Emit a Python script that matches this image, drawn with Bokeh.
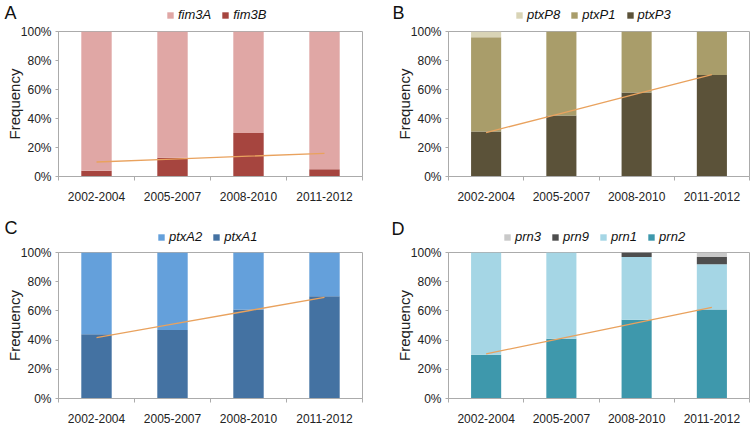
from bokeh.plotting import figure
from bokeh.layouts import column, row
from bokeh.models import (ColumnDataSource, Range1d, LinearAxis,
                          FixedTicker, PrintfTickFormatter, Legend, LegendItem, Label)
from bokeh.embed import file_html
from bokeh.resources import INLINE
import numpy as np

# ---------------- data ----------------
periods = ["2002-2004", "2005-2007", "2008-2010", "2011-2012"]
y_ticks = [0, 20, 40, 60, 80, 100]

# Panel A (bottom -> top)
fim3B = [4, 13, 30, 5]
fim3A = [96, 87, 70, 95]

# Panel B
ptxP3 = [31, 42, 58, 70]
ptxP1 = [65, 58, 42, 30]
ptxP8 = [4, 0, 0, 0]

# Panel C
ptxA1 = [44, 47, 61, 70]
ptxA2 = [56, 53, 39, 30]

# Panel D
prn2 = [30, 41, 54, 61]
prn1 = [70, 59, 43, 31]
prn9 = [0, 0, 3, 5]
prn3 = [0, 0, 0, 3]

FONT = "Liberation Sans"
GRAY = "#ABABAB"
TXT = "#222222"
TREND = "#E9A25E"

n_cat = len(periods)
centers = [i + 0.5 for i in range(n_cat)]


def header(letter, names, colors, width, height, letter_pos, legend_pos):
    h = figure(width=width, height=height, x_range=Range1d(0, 1), y_range=Range1d(0, 1),
               output_backend="svg", toolbar_location=None,
               x_axis_location=None, y_axis_location=None,
               min_border_left=0, min_border_right=0, min_border_top=0, min_border_bottom=0)
    h.grid.visible = False
    h.outline_line_color = None
    # zero-height swatch renderers that only feed the legend
    rs = [h.vbar(x=[0.5], bottom=[0], top=[0], width=0.4, color=c, line_color=None)
          for c in colors]
    items = [LegendItem(label=n, renderers=[r]) for n, r in zip(names[::-1], rs[::-1])]
    legend = Legend(items=items, orientation="horizontal", location=legend_pos,
                    background_fill_alpha=0, border_line_color=None, padding=0, margin=0,
                    spacing=10, label_standoff=4, glyph_width=8, glyph_height=8,
                    label_height=14, label_text_font=FONT, label_text_font_size="13px",
                    label_text_font_style="italic", label_text_color="#111111")
    h.add_layout(legend)
    h.add_layout(Label(x=letter_pos[0], y=letter_pos[1], x_units="screen", y_units="screen",
                       text=letter, text_font=FONT, text_font_size="18px",
                       text_color="#111111", text_baseline="top", text_align="left"))
    return h


def panel(names, series, colors, width, height, borders):
    bl, br, bt, bb = borders
    data = {"xc": centers}
    for n, s in zip(names, series):
        data[n] = s
    src = ColumnDataSource(data)
    p = figure(x_range=Range1d(0, n_cat), y_range=Range1d(0, 100),
               width=width, height=height, output_backend="svg", toolbar_location=None,
               x_axis_location=None,
               min_border_left=bl, min_border_right=br, min_border_top=bt, min_border_bottom=bb)
    p.grid.visible = False
    p.outline_line_color = GRAY

    # y axis
    ya = p.yaxis[0]
    ya.ticker = FixedTicker(ticks=y_ticks)
    ya.formatter = PrintfTickFormatter(format="%d%%")
    ya.axis_line_color = GRAY
    ya.major_tick_line_color = GRAY
    ya.major_tick_out = 3
    ya.major_tick_in = 0
    ya.minor_tick_line_color = None
    ya.major_label_standoff = 4
    ya.major_label_text_font = FONT
    ya.major_label_text_font_size = "12px"
    ya.major_label_text_color = TXT
    ya.axis_label = "Frequency"
    ya.axis_label_text_font = FONT
    ya.axis_label_text_font_size = "15px"
    ya.axis_label_text_font_style = "normal"
    ya.axis_label_text_color = TXT
    ya.axis_label_standoff = -5

    # x axis: labels at category centres, small ticks at category boundaries
    xa = LinearAxis(ticker=FixedTicker(ticks=centers, minor_ticks=list(range(n_cat + 1))),
                    major_label_overrides={c: lab for c, lab in zip(centers, periods)},
                    major_tick_line_color=None, major_tick_out=0, major_tick_in=0,
                    minor_tick_line_color=GRAY, minor_tick_out=4, minor_tick_in=0,
                    axis_line_color=GRAY, major_label_standoff=11,
                    major_label_text_font=FONT, major_label_text_font_size="12px",
                    major_label_text_color=TXT)
    p.add_layout(xa, "below")

    p.vbar_stack(names, x="xc", width=0.4, color=colors, line_color=None, source=src)

    # linear trend of the bottom series
    idx = np.arange(n_cat)
    coef = np.polyfit(idx, np.array(series[0], dtype=float), 1)
    p.line(x=centers, y=np.polyval(coef, idx), color=TREND, line_width=1.3)
    return p


W1, W2 = 377, 378
H_HEAD1, H_MAIN1, H_HEAD2, H_MAIN2 = 23, 187, 34, 183

nA, cA = ["fim3B", "fim3A"], ["#A6453F", "#E0A7A5"]
nB, cB = ["ptxP3", "ptxP1", "ptxP8"], ["#5B5239", "#A99D6A", "#D9D4B6"]
nC, cC = ["ptxA1", "ptxA2"], ["#4472A2", "#64A0DB"]
nD, cD = ["prn2", "prn1", "prn9", "prn3"], ["#3E98AC", "#A5D6E5", "#4E4E4E", "#C9C9C9"]

hA = header("A", nA, cA, W1, H_HEAD1, (4, 21), (166, 1))
hB = header("B", nB, cB, W2, H_HEAD1, (15, 21), (138, 1))
hC = header("C", nC, cC, W1, H_HEAD2, (4, 27), (157, 0))
hD = header("D", nD, cD, W2, H_HEAD2, (14, 26), (126, 0))

a = panel(nA, [fim3B, fim3A], cA, W1, H_MAIN1, (58, 15, 6, 34))
b = panel(nB, [ptxP3, ptxP1, ptxP8], cB, W2, H_MAIN1, (71, 6, 8, 30))
c = panel(nC, [ptxA1, ptxA2], cC, W1, H_MAIN2, (58, 15, 8, 25))
d = panel(nD, [prn2, prn1, prn9, prn3], cD, W2, H_MAIN2, (71, 6, 8, 29))

layout = column(row(hA, hB, spacing=0), row(a, b, spacing=0),
                row(hC, hD, spacing=0), row(c, d, spacing=0), spacing=0)

open("out.html", "w").write(file_html(layout, INLINE))
